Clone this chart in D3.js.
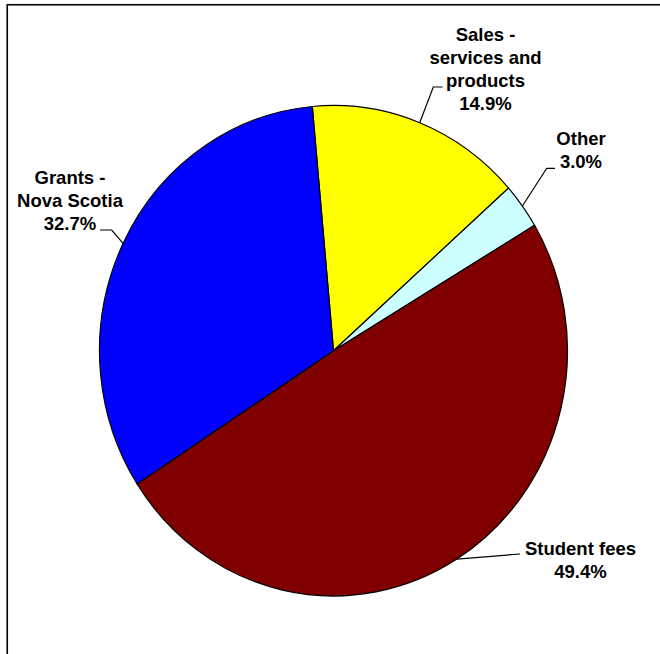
<!DOCTYPE html>
<html>
<head>
<meta charset="utf-8">
<script src="https://cdn.jsdelivr.net/npm/d3@7/dist/d3.min.js"></script>
<style>
  html, body { margin: 0; padding: 0; background: #fff; }
  svg { display: block; }
  text { font-family: "Liberation Sans", Arial, sans-serif; font-weight: bold; font-size: 18.5px; fill: #000; }
</style>
</head>
<body>
<svg id="chart" width="660" height="654"></svg>
<script>
// Revenue sources, in percent of total
const categories = ["Sales - services and products", "Other", "Student fees", "Grants - Nova Scotia"];
const values = [14.9, 3.0, 49.4, 32.7];
const colors = ["#FFFF00", "#CCFFFF", "#800000", "#0000FF"];
const labelLines = [
  ["Sales -", "services and", "products"],
  ["Other"],
  ["Student fees"],
  ["Grants -", "Nova Scotia"]
];

// Layout
const W = 660, H = 654;
const cx = 333.5, cy = 350.75;
const ry = 245.25, rx = 234;          // pie is drawn slightly narrower than tall
const startDeg = -5.2;
const lineH = 23;

// label anchor (centre x, baseline of last line) and leader elbow per slice
const labelPos = [
  { x: 485.5, y: 110, elbow: [433.3, 87], end: [442.5, 87] },
  { x: 581,   y: 168.3, elbow: [546.7, 168.3], end: [555, 168.3] },
  { x: 580.5, y: 578, elbow: [520, 554], end: [520, 554] },
  { x: 70,    y: 230, elbow: [111.7, 230], end: [100, 230] }
];

const svg = d3.select("#chart");

// outer frame
svg.append("rect")
  .attr("x", 7.25).attr("y", 4.75)
  .attr("width", 800).attr("height", 800)
  .attr("fill", "none").attr("stroke", "#000").attr("stroke-width", 1.6);

const data = categories.map((c, i) => ({ category: c, value: values[i], color: colors[i], lines: labelLines[i], pos: labelPos[i] }));

const pie = d3.pie()
  .sort(null)
  .value(d => d.value)
  .startAngle(startDeg * Math.PI / 180)
  .endAngle(startDeg * Math.PI / 180 + 2 * Math.PI);

const arcs = pie(data);
const arc = d3.arc().innerRadius(0).outerRadius(ry);

const g = svg.append("g")
  .attr("transform", `translate(${cx},${cy}) scale(${rx / ry},1)`);

g.selectAll("path.slice")
  .data(arcs)
  .join("path")
  .attr("class", "slice")
  .attr("d", arc)
  .attr("fill", d => d.data.color)
  .attr("stroke", "#000")
  .attr("stroke-width", 1.2)
  .attr("stroke-linejoin", "round")
  .attr("vector-effect", "non-scaling-stroke");

// point on the pie rim at a given angle
function rim(a) {
  return [cx + rx * Math.sin(a), cy - ry * Math.cos(a)];
}

// leader lines
svg.selectAll("path.leader")
  .data(arcs)
  .join("path")
  .attr("class", "leader")
  .attr("fill", "none")
  .attr("stroke", "#000")
  .attr("stroke-width", 1.2)
  .attr("d", d => {
    const mid = (d.startAngle + d.endAngle) / 2;
    const p = rim(mid);
    const e = d.data.pos.elbow, t = d.data.pos.end;
    return d3.line()([p, e, t]);
  });

// labels
const fmt = d3.format(".1f");
const labels = svg.selectAll("text.label")
  .data(arcs)
  .join("text")
  .attr("class", "label")
  .attr("text-anchor", "middle");

labels.each(function(d) {
  const t = d3.select(this);
  const lines = d.data.lines.concat([fmt(d.data.value) + "%"]);
  const n = lines.length;
  lines.forEach((s, i) => {
    t.append("tspan")
      .attr("x", d.data.pos.x)
      .attr("y", d.data.pos.y - (n - 1 - i) * lineH)
      .text(s);
  });
});
</script>
</body>
</html>
